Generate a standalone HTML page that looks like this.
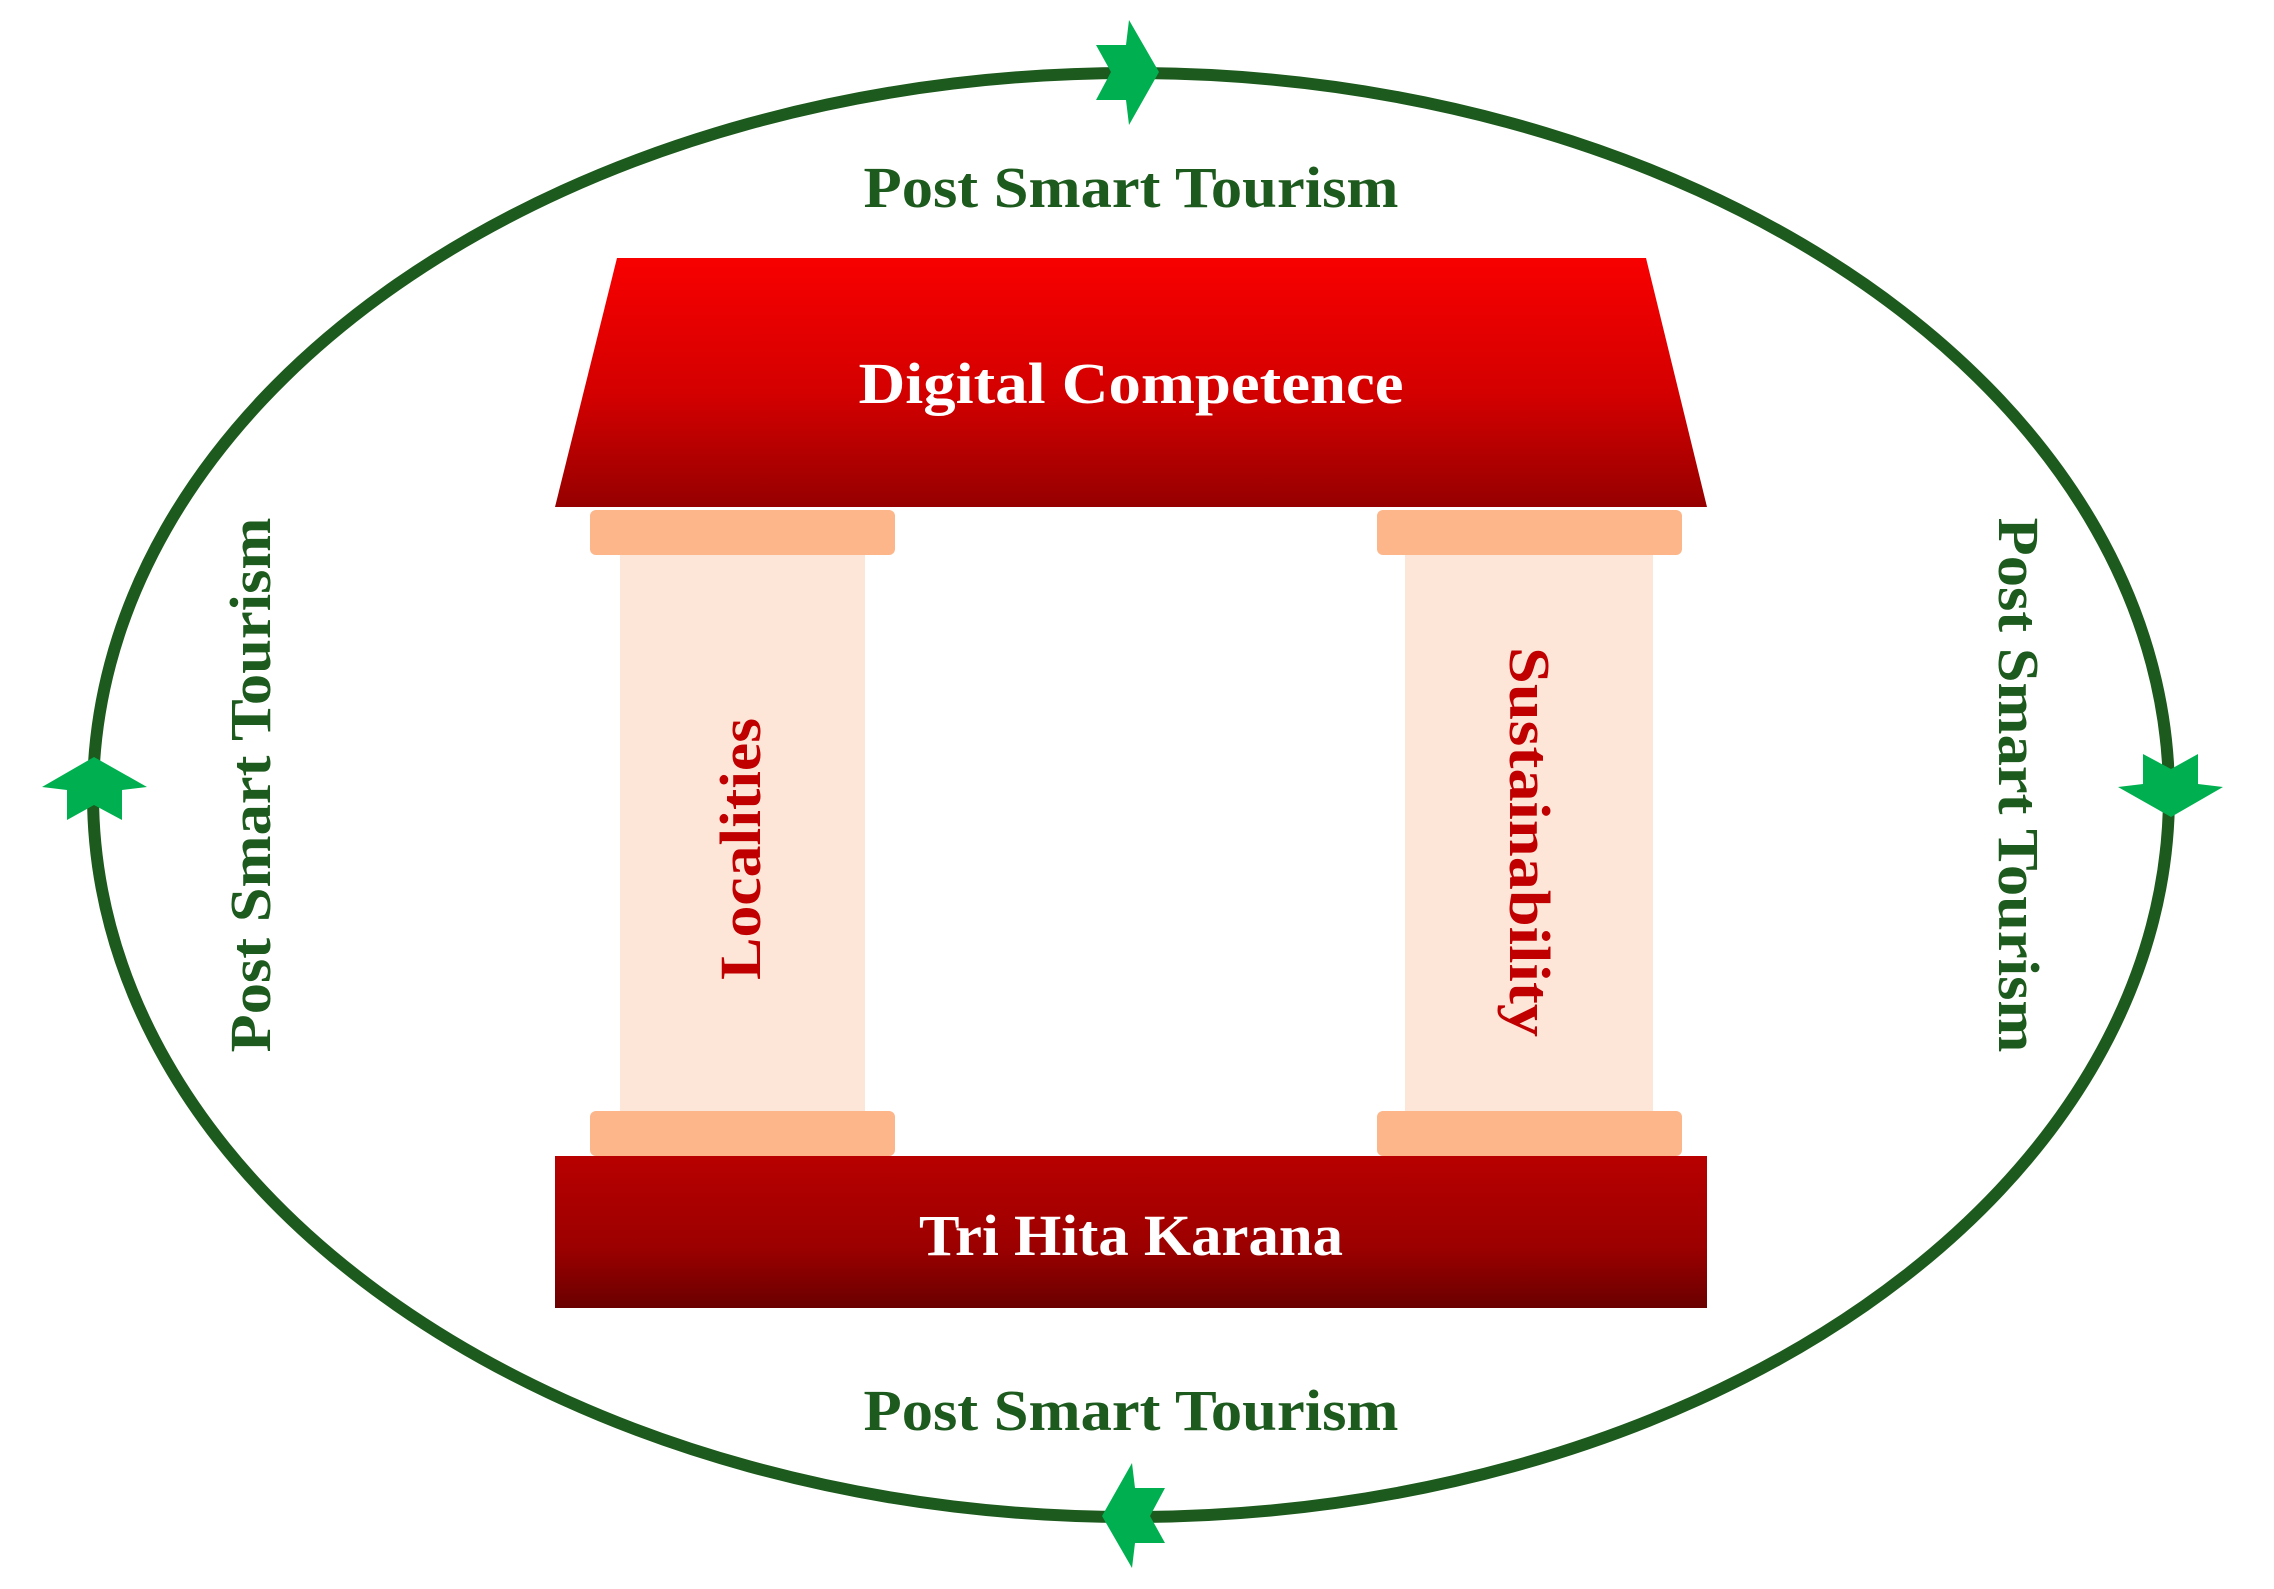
<!DOCTYPE html>
<html><head><meta charset="utf-8"><style>html,body{margin:0;padding:0;background:#fff}svg{display:block}</style></head>
<body>
<svg width="2274" height="1589" viewBox="0 0 2274 1589" xmlns="http://www.w3.org/2000/svg">
<defs>
<linearGradient id="roof" x1="0" y1="0" x2="0" y2="1"><stop offset="0" stop-color="#f80000"/><stop offset="0.55" stop-color="#d30000"/><stop offset="1" stop-color="#960000"/></linearGradient>
<linearGradient id="base" x1="0" y1="0" x2="0" y2="1"><stop offset="0" stop-color="#b80000"/><stop offset="0.6" stop-color="#9c0000"/><stop offset="1" stop-color="#6a0000"/></linearGradient>
<polygon id="arr" points="0,0 -30,-52 -33,-27 -63,-27 -48,0 -63,28 -33,28 -30,53"/>
</defs>
<ellipse cx="1131" cy="795" rx="1038" ry="722" fill="none" stroke="#1d5a1d" stroke-width="12"/>
<g fill="#00b050">
<use href="#arr" transform="translate(1159,72)"/>
<use href="#arr" transform="translate(94,757) rotate(-90)"/>
<use href="#arr" transform="translate(2171,817) rotate(90)"/>
<use href="#arr" transform="translate(1102,1516) rotate(180)"/>
</g>
<polygon points="617,258 1646,258 1707,507 555,507" fill="url(#roof)"/>
<rect x="590" y="510" width="305" height="45" rx="6" fill="#fdb58a"/>
<rect x="1377" y="510" width="305" height="45" rx="6" fill="#fdb58a"/>
<rect x="620" y="555" width="245" height="556" fill="#fde5d8"/>
<rect x="1405" y="555" width="248" height="556" fill="#fde5d8"/>
<rect x="590" y="1111" width="305" height="45" rx="6" fill="#fdb58a"/>
<rect x="1377" y="1111" width="305" height="45" rx="6" fill="#fdb58a"/>
<rect x="555" y="1156" width="1152" height="152" fill="url(#base)"/>
<g font-family="Liberation Serif, serif" font-weight="bold" font-size="58" text-anchor="middle">
<text x="1131" y="207" fill="#1d5a1d" textLength="535" lengthAdjust="spacingAndGlyphs">Post Smart Tourism</text>
<text x="1131" y="1430" fill="#1d5a1d" textLength="535" lengthAdjust="spacingAndGlyphs">Post Smart Tourism</text>
<text x="1131" y="403" fill="#fff" textLength="545" lengthAdjust="spacingAndGlyphs">Digital Competence</text>
<text x="1131" y="1255" fill="#fff" textLength="424" lengthAdjust="spacingAndGlyphs">Tri Hita Karana</text>
<text transform="translate(270,785) rotate(-90)" fill="#1d5a1d" textLength="535" lengthAdjust="spacingAndGlyphs">Post Smart Tourism</text>
<text transform="translate(1999,785) rotate(90)" fill="#1d5a1d" textLength="535" lengthAdjust="spacingAndGlyphs">Post Smart Tourism</text>
<text transform="translate(760,849) rotate(-90)" fill="#c00000" textLength="262" lengthAdjust="spacingAndGlyphs">Localities</text>
<text transform="translate(1510,842) rotate(90)" fill="#c00000" textLength="390" lengthAdjust="spacingAndGlyphs">Sustainability</text>
</g>
</svg>
</body></html>
